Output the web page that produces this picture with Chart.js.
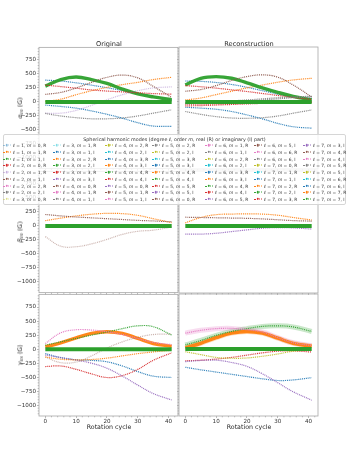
<!DOCTYPE html>
<html>
<head>
<meta charset="utf-8">
<script src="https://cdn.jsdelivr.net/npm/chart.js@4.4.1/dist/chart.umd.min.js"></script>
<style>
  body { margin: 0; width: 349px; height: 455px; background: #fff; position: relative; overflow: hidden;
         font-family: "DejaVu Sans", sans-serif; color: #222; }
  canvas { position: absolute; z-index: 1; }
  .title { position: absolute; font-size: 6.6px; transform: translate(-50%, -50%); white-space: nowrap;
           color: #262626; will-change: transform; }
  .ylab { position: absolute; font-size: 6.2px; transform: translate(-50%, -50%) rotate(-90deg); white-space: nowrap;
          color: #262626; will-change: transform; }
  .ylab sub { font-size: 4.4px; vertical-align: -1px; }
  #legendLayer { position: absolute; left: 0; top: 0; width: 349px; height: 455px; z-index: 5; will-change: transform; }
  .legend { position: absolute; left: 3px; top: 134px; width: 343px; height: 71px; box-sizing: border-box;
            border: 0.7px solid #d6d6d6; border-radius: 2px; background: rgba(255, 255, 255, 0.8); }
  .legend-title { position: absolute; left: 174.5px; top: 138.5px; transform: translate(-50%, -50%);
                  font-size: 4.8px; white-space: nowrap; color: #333; }
  .entry { position: absolute; font-size: 4.4px; white-space: nowrap; transform: translateY(-50%); color: #333; }
  .handle { position: absolute; height: 0; width: 8px; border-top: 0.8px dotted; transform: translateY(-50%); }
  .dot { position: absolute; width: 2.4px; height: 2.4px; border-radius: 50%; transform: translate(-50%, -50%); }
</style>
</head>
<body>
<div class="title" style="left:108.5px;top:43.5px">Original</div>
<div class="title" style="left:248.5px;top:43.5px">Reconstruction</div>
<div class="ylab" style="left:20px;top:108px"><i>α</i><sub><i>lm</i></sub> (G)</div>
<div class="ylab" style="left:20px;top:232px"><i>β</i><sub><i>lm</i></sub> (G)</div>
<div class="ylab" style="left:20px;top:355px"><i>γ</i><sub><i>lm</i></sub> (G)</div>
<div class="title" style="left:108.5px;top:425.5px;font-size:6.3px">Rotation cycle</div>
<div class="title" style="left:248.5px;top:425.5px;font-size:6.3px">Rotation cycle</div>
<div id="legendLayer"></div>
<script>
const cycles = [0, 5, 10, 15, 20, 25, 30, 35, 41];
const xTicks = [0, 10, 20, 30, 40];
const yTicks = [-1000, -750, -500, -250, 0, 250, 500, 750];
const degrees = [1, 2, 3, 4, 5, 6, 7];
const tab10 = ["#1f77b4", "#ff7f0e", "#2ca02c", "#d62728", "#9467bd",
               "#8c564b", "#e377c2", "#7f7f7f", "#bcbd22", "#17becf"];

// alpha, original
const alphaOrigBlueHigh = [390, 375, 342, 300, 254, 205, 154, 100, 40];
const alphaOrigOrange = [10, 50, 130, 200, 260, 310, 350, 400, 440];
const alphaOrigGreen = [284, 400, 445, 400, 330, 230, 145, 90, 40];
const alphaOrigRed = [300, 275, 245, 215, 195, 180, 165, 150, 140];
const alphaOrigLavender = [-200, -200, -150, -60, 40, 130, 200, 250, 270];
const alphaOrigBrown = [136, 170, 250, 350, 440, 480, 430, 280, 80];
const alphaOrigGray = [-205, -250, -280, -300, -300, -285, -250, -200, -140];
const alphaOrigBlueLow = [-55, -80, -110, -160, -220, -290, -370, -430, -435];

// alpha, reconstruction
const alphaRecBlueHigh = [372, 365, 345, 310, 260, 200, 140, 90, 65];
const alphaRecOrange = [35, 70, 130, 190, 250, 300, 350, 390, 420];
const alphaRecGreen = [300, 420, 449, 420, 340, 250, 170, 100, 35];
const alphaRecRed = [290, 270, 245, 215, 185, 150, 115, 80, 45];
const alphaRecBrown = [190, 220, 290, 380, 450, 480, 440, 300, 90];
const alphaRecGray = [-170, -220, -260, -285, -290, -280, -250, -200, -142];
const alphaRecBlueLow = [-94, -110, -130, -170, -230, -300, -380, -440, -465];
const alphaRecGrayFanA = [-10, -5, 5, 20, 35, 55, 75, 90, 100];
const alphaRecGrayFanB = [-30, -25, -15, 0, 15, 35, 55, 75, 90];
const alphaRecRedLowA = [-40, -40, -35, -30, -25, -20, -15, -10, -5];
const alphaRecRedLowB = [-70, -65, -55, -45, -35, -25, -15, -10, -5];

// beta
const betaOrigOrange = [94, 140, 180, 210, 225, 220, 190, 130, 60];
const betaOrigBrown = [205, 180, 160, 145, 130, 115, 100, 90, 75];
const betaOrigMauve = [-190, -360, -370, -320, -240, -150, -95, -75, -20];
const betaRecOrange = [55, 150, 200, 210, 215, 210, 190, 150, 105];
const betaRecBrown = [155, 150, 145, 140, 135, 125, 110, 95, 85];
const betaRecPurple = [-145, -145, -130, -100, -70, -40, -30, -35, -55];

// gamma, original
const gammaOrigGreen = [70, 130, 190, 250, 305, 365, 415, 400, 250];
const gammaOrigOrange = [40, 110, 200, 280, 310, 280, 190, 100, 50];
const gammaOrigPink = [100, 290, 345, 340, 310, 260, 190, 120, 80];
const gammaOrigTan = [-140, -240, -230, -120, 20, 130, 210, 260, 270];
const gammaOrigOrangeLow = [-140, -180, -190, -185, -160, -120, -80, -50, -20];
const gammaOrigBlue = [-80, -150, -190, -200, -225, -300, -400, -480, -505];
const gammaOrigRed = [-310, -300, -360, -440, -505, -470, -360, -200, -65];
const gammaOrigPurple = [-105, -150, -195, -250, -340, -480, -640, -790, -905];

// gamma, reconstruction
const gammaRecPink = [280, 330, 360, 365, 340, 300, 200, 110, 60];
const gammaRecOrange = [20, 100, 200, 280, 310, 280, 190, 100, 50];
const gammaRecGreen = [70, 150, 240, 310, 360, 400, 410, 390, 310];
const gammaRecOlive = [-50, -100, -150, -165, -160, -130, -90, -40, -20];
const gammaRecRed = [-210, -200, -180, -150, -110, -70, -40, -35, -55];
const gammaRecPurple = [-225, -205, -200, -240, -310, -440, -600, -760, -910];
const gammaRecBlue = [-325, -370, -410, -450, -490, -530, -560, -550, -510];

// the many small modes that sit on zero
const quietModes = [0, 0, 0, 0, 0, 0, 0, 0, 0];

const modes = [];
degrees.forEach((l) => {
  for (let m = 0; m <= l; m++) {
    modes.push({ l, m, part: "R" });
    if (m > 0) modes.push({ l, m, part: "I" });
  }
});
const quiet = { mode: modes.length - 1, values: quietModes, kind: "band" };

const panels = [
  { row: 0, col: 0, curves: [
    { mode: 0, values: alphaOrigBlueHigh }, { mode: 1, values: alphaOrigOrange },
    { mode: 2, values: alphaOrigGreen, kind: "thick" }, { mode: 3, values: alphaOrigRed },
    { mode: 4, values: alphaOrigLavender, faded: true }, { mode: 5, values: alphaOrigBrown },
    { mode: 7, values: alphaOrigGray }, { mode: 10, values: alphaOrigBlueLow }, quiet ] },
  { row: 0, col: 1, curves: [
    { mode: 0, values: alphaRecBlueHigh }, { mode: 1, values: alphaRecOrange },
    { mode: 2, values: alphaRecGreen, kind: "thick" }, { mode: 3, values: alphaRecRed },
    { mode: 5, values: alphaRecBrown }, { mode: 7, values: alphaRecGray },
    { mode: 10, values: alphaRecBlueLow }, { mode: 13, values: alphaRecRedLowA },
    { mode: 17, values: alphaRecGrayFanA }, { mode: 23, values: alphaRecRedLowB },
    { mode: 27, values: alphaRecGrayFanB }, quiet ] },
  { row: 1, col: 0, curves: [
    { mode: 1, values: betaOrigOrange }, { mode: 5, values: betaOrigBrown },
    { mode: 15, values: betaOrigMauve, faded: true }, quiet ] },
  { row: 1, col: 1, curves: [
    { mode: 1, values: betaRecOrange }, { mode: 4, values: betaRecPurple },
    { mode: 5, values: betaRecBrown }, quiet ] },
  { row: 2, col: 0, curves: [
    { mode: 0, values: gammaOrigBlue }, { mode: 1, values: gammaOrigOrange, kind: "thick" },
    { mode: 2, values: gammaOrigGreen }, { mode: 3, values: gammaOrigRed },
    { mode: 4, values: gammaOrigPurple }, { mode: 5, values: gammaOrigTan, faded: true },
    { mode: 6, values: gammaOrigPink }, { mode: 11, values: gammaOrigOrangeLow }, quiet ] },
  { row: 2, col: 1, curves: [
    { mode: 0, values: gammaRecBlue }, { mode: 1, values: gammaRecOrange, kind: "thick", halo: true },
    { mode: 2, values: gammaRecGreen, halo: true }, { mode: 3, values: gammaRecRed },
    { mode: 4, values: gammaRecPurple }, { mode: 6, values: gammaRecPink, halo: true },
    { mode: 8, values: gammaRecOlive }, quiet ] }
];

const panelLeft = [39, 179];
const panelTop = [47, 171, 294];
const panelW = 139;
const panelH = 122;
const spineColor = "#a8a8a8";
const tickFont = { family: "DejaVu Sans", size: 5.6 };

const withAlpha = (hex, a) => {
  const n = parseInt(hex.slice(1), 16);
  return `rgba(${(n >> 16) & 255}, ${(n >> 8) & 255}, ${n & 255}, ${a})`;
};

const framePlugin = {
  id: "frame",
  afterDraw(chart) {
    const { ctx, chartArea: a, scales: { x, y } } = chart;
    ctx.save();
    ctx.strokeStyle = spineColor;
    ctx.lineWidth = 0.8;
    ctx.strokeRect(a.left, a.top, a.right - a.left, a.bottom - a.top);
    ctx.beginPath();
    for (let v = 0; v <= 42; v += 2) {
      if (v % 10 === 0) continue;
      const px = x.getPixelForValue(v);
      ctx.moveTo(px, a.bottom);
      ctx.lineTo(px, a.bottom + 1.3);
    }
    for (let v = -1150; v <= 950; v += 50) {
      if (v % 250 === 0) continue;
      const py = y.getPixelForValue(v);
      ctx.moveTo(a.left, py);
      ctx.lineTo(a.left - 1.3, py);
    }
    ctx.stroke();
    ctx.restore();
  }
};

function curveDatasets(curve) {
  const color = tab10[curve.mode % 10];
  const points = cycles.map((t, i) => ({ x: t, y: curve.values[i] }));
  const base = { data: points, pointRadius: 0, tension: 0.4, fill: false, order: 200 - curve.mode };
  const sets = [];
  if (curve.halo) {
    sets.push({ ...base, borderColor: withAlpha(color, 0.25), borderWidth: 5, order: 300 - curve.mode });
  }
  if (curve.kind === "thick") {
    sets.push({ ...base, borderColor: withAlpha(color, 0.95), borderWidth: 3.4 });
  } else if (curve.kind === "band") {
    sets.push({ ...base, borderColor: color, borderWidth: 4 });
  } else {
    sets.push({ ...base, borderColor: withAlpha(color, curve.faded ? 0.45 : 0.95),
                borderWidth: 1.2, borderDash: [1, 0.9] });
  }
  return sets;
}

function renderPanel(panel) {
  const padLeft = panel.col === 0 ? 39 : 6;
  const padTop = 4;
  const padRight = 2;
  const padBottom = panel.row === 2 ? 12 : 4;
  const canvas = document.createElement("canvas");
  canvas.width = padLeft + panelW + padRight;
  canvas.height = padTop + panelH + padBottom;
  canvas.style.left = (panelLeft[panel.col] - padLeft) + "px";
  canvas.style.top = (panelTop[panel.row] - padTop) + "px";
  document.body.appendChild(canvas);

  new Chart(canvas, {
    type: "line",
    data: { datasets: panel.curves.flatMap(curveDatasets) },
    options: {
      responsive: false,
      animation: false,
      devicePixelRatio: 1,
      layout: { padding: { top: padTop, right: padRight, left: 0, bottom: 0 } },
      plugins: { legend: { display: false }, tooltip: { enabled: false } },
      scales: {
        x: {
          type: "linear", min: -2.05, max: 43.05,
          afterBuildTicks: (s) => { s.ticks = xTicks.map((v) => ({ value: v })); },
          afterFit: (s) => { s.height = padBottom; },
          ticks: { display: panel.row === 2, font: tickFont, color: "#333", padding: 0.5,
                   maxRotation: 0, autoSkip: false },
          grid: { drawOnChartArea: false, tickLength: 2, color: spineColor, lineWidth: 0.8 },
          border: { display: false }
        },
        y: {
          type: "linear", min: -1190, max: 975,
          afterBuildTicks: (s) => { s.ticks = yTicks.map((v) => ({ value: v })); },
          afterFit: (s) => { s.width = padLeft; },
          ticks: { display: panel.col === 0, font: tickFont, color: "#333", padding: 1,
                   callback: (v) => String(v).replace("-", "\u2212") },
          grid: { drawOnChartArea: false, tickLength: 2, color: spineColor, lineWidth: 0.8 },
          border: { display: false }
        }
      }
    },
    plugins: [framePlugin]
  });
}

function renderLegend() {
  const layer = document.getElementById("legendLayer");
  const textLeft = [13, 63, 115, 162, 215, 264, 313];
  const rowTop = 145.3;
  const rowStep = 6.71;
  const faded = new Set([0, 4, 8, 9]);
  let html = '<div class="legend"></div><div class="legend-title">Spherical harmonic modes (degree <i>ℓ</i>, order <i>m</i>, real (R) or imaginary (I) part)</div>';
  modes.forEach((mode, i) => {
    const col = Math.floor(i / 9);
    const row = i % 9;
    const y = rowTop + row * rowStep;
    const x = textLeft[col];
    const color = withAlpha(tab10[i % 10], faded.has(i) ? 0.4 : 0.95);
    html += `<div class="handle" style="left:${x - 10}px;top:${y}px;border-color:${color}"></div>`;
    html += `<div class="dot" style="left:${x - 6}px;top:${y}px;background:${color}"></div>`;
    html += `<div class="entry" style="left:${x}px;top:${y}px"><i>ℓ</i> = ${mode.l}, <i>m</i> = ${mode.m}, ${mode.part}</div>`;
  });
  layer.innerHTML = html;
}

panels.forEach(renderPanel);
renderLegend();
</script>
</body>
</html>
